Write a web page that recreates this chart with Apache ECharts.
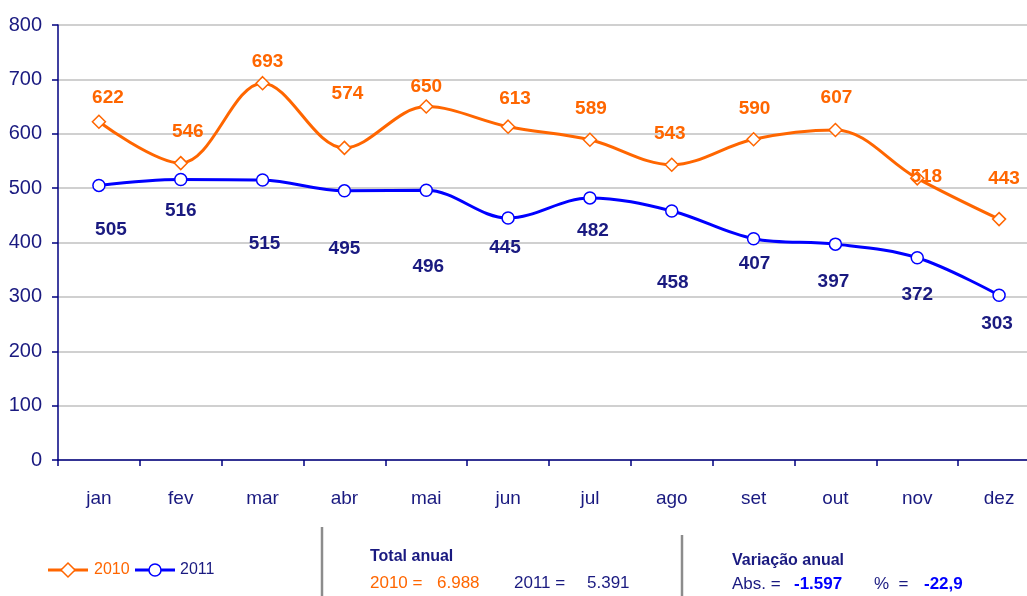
<!DOCTYPE html>
<html>
<head>
<meta charset="utf-8">
<script src="https://cdn.jsdelivr.net/npm/echarts@6/dist/echarts.min.js"></script>
<style>
html,body{margin:0;padding:0;background:#fff;overflow:hidden;}
#chart{width:1050px;height:596px;}
</style>
</head>
<body>
<div id="chart"></div>
<script>
const categories = ['jan','fev','mar','abr','mai','jun','jul','ago','set','out','nov','dez'];
const values2010 = [622,546,693,574,650,613,589,543,590,607,518,443];
const values2011 = [505,516,515,495,496,445,482,458,407,397,372,303];
const yTicks = [0,100,200,300,400,500,600,700,800];
const seriesNames = ['2010','2011'];
const totals = {y2010:'6.988', y2011:'5.391'};
const variation = {abs:'-1.597', pct:'-22,9'};

// label placement (style only): [dx, dy] from each marker
const off2010 = [[9,-24],[7,-31],[5,-21],[3,-54],[0,-20],[7,-28],[1,-31],[-2,-31],[1,-30],[1,-32],[9,-2],[5,-40]];
const off2011 = [[12,44],[0,31],[2,64],[0,58],[2,76],[-3,30],[3,33],[1,72],[1,25],[-2,38],[0,37],[-2,29]];

const FONT = '"Liberation Sans Narrow","Arial Narrow","Liberation Sans",Arial,sans-serif';
const ORANGE = '#FF6600';
const BLUE = '#0000FF';
const NAVY = '#1A1A80';

function mkData(vals, offs){
  return vals.map((v,i)=>({value:v, label:{offset:offs[i]}}));
}

const chart = echarts.init(document.getElementById('chart'));
chart.setOption({
  animation:false,
  backgroundColor:'#fff',
  grid:{left:58, top:25, width:982, height:435},
  xAxis:{
    type:'category',
    data:categories,
    boundaryGap:true,
    axisLine:{lineStyle:{color:'#000080', width:1.5}},
    axisTick:{show:true, length:6, inside:false, lineStyle:{color:'#000080', width:1.5}},
    axisLabel:{color:NAVY, fontFamily:FONT, fontSize:19, margin:29}
  },
  yAxis:{
    type:'value', min:yTicks[0], max:yTicks[yTicks.length-1], interval:100,
    axisLine:{show:true, lineStyle:{color:'#000080', width:1.5}},
    axisTick:{show:true, length:6, lineStyle:{color:'#000080', width:1.5}},
    axisLabel:{color:NAVY, fontFamily:FONT, fontSize:20, margin:16},
    splitLine:{show:true, lineStyle:{color:'#C0C0C0', width:1.5}}
  },
  series:[
    {
      name:seriesNames[0], type:'line', smooth:0.35,
      data:mkData(values2010, off2010),
      symbol:'diamond', symbolSize:13,
      itemStyle:{color:'#fff', borderColor:ORANGE, borderWidth:1.5},
      lineStyle:{color:ORANGE, width:3},
      label:{show:true, position:'inside', color:ORANGE, fontFamily:FONT, fontSize:19, fontWeight:'bold'},
      z:3
    },
    {
      name:seriesNames[1], type:'line', smooth:0.35,
      data:mkData(values2011, off2011),
      symbol:'circle', symbolSize:12,
      itemStyle:{color:'#fff', borderColor:BLUE, borderWidth:1.5},
      lineStyle:{color:BLUE, width:3},
      label:{show:true, position:'inside', color:NAVY, fontFamily:FONT, fontSize:19, fontWeight:'bold'},
      z:3
    }
  ],
  graphic:[
    // legend
    {type:'line', shape:{x1:48,y1:570,x2:88,y2:570}, style:{stroke:ORANGE, lineWidth:3}},
    {type:'polygon', shape:{points:[[68,563],[75,570],[68,577],[61,570]]}, style:{fill:'#fff', stroke:ORANGE, lineWidth:1.5}},
    {type:'text', x:94, y:570, style:{text:seriesNames[0], fill:ORANGE, font:'16px '+FONT, verticalAlign:'middle'}},
    {type:'line', shape:{x1:135,y1:570,x2:175,y2:570}, style:{stroke:BLUE, lineWidth:3}},
    {type:'circle', shape:{cx:155,cy:570,r:6}, style:{fill:'#fff', stroke:BLUE, lineWidth:1.5}},
    {type:'text', x:180, y:570, style:{text:seriesNames[1], fill:NAVY, font:'16px '+FONT, verticalAlign:'middle'}},
    // separators
    {type:'line', shape:{x1:322,y1:527,x2:322,y2:596}, style:{stroke:'#8C8C8C', lineWidth:2.5}},
    {type:'line', shape:{x1:682,y1:535,x2:682,y2:596}, style:{stroke:'#8C8C8C', lineWidth:2.5}},
    // totals
    {type:'text', x:370, y:557, style:{text:'Total anual', fill:NAVY, font:'bold 16px '+FONT, verticalAlign:'middle'}},
    {type:'text', x:370, y:583, style:{text:seriesNames[0]+' =', fill:ORANGE, font:'17px '+FONT, verticalAlign:'middle'}},
    {type:'text', x:437, y:583, style:{text:totals.y2010, fill:ORANGE, font:'17px '+FONT, verticalAlign:'middle'}},
    {type:'text', x:514, y:583, style:{text:seriesNames[1]+' =', fill:NAVY, font:'17px '+FONT, verticalAlign:'middle'}},
    {type:'text', x:587, y:583, style:{text:totals.y2011, fill:NAVY, font:'17px '+FONT, verticalAlign:'middle'}},
    // variation
    {type:'text', x:732, y:561, style:{text:'Variação anual', fill:NAVY, font:'bold 16px '+FONT, verticalAlign:'middle'}},
    {type:'text', x:732, y:584, style:{text:'Abs. =', fill:NAVY, font:'17px '+FONT, verticalAlign:'middle'}},
    {type:'text', x:794, y:584, style:{text:variation.abs, fill:BLUE, font:'bold 17px '+FONT, verticalAlign:'middle'}},
    {type:'text', x:874, y:584, style:{text:'%  =', fill:NAVY, font:'17px '+FONT, verticalAlign:'middle'}},
    {type:'text', x:924, y:584, style:{text:variation.pct, fill:BLUE, font:'bold 17px '+FONT, verticalAlign:'middle'}}
  ]
});
</script>
</body>
</html>
